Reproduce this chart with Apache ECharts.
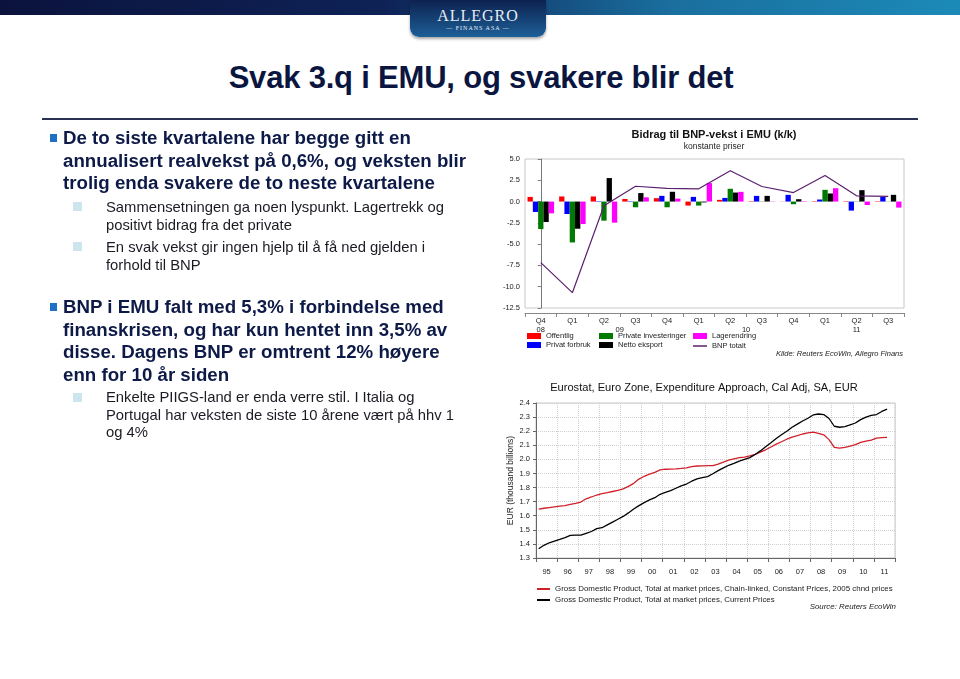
<!DOCTYPE html>
<html>
<head>
<meta charset="utf-8">
<script src="https://cdn.jsdelivr.net/npm/echarts@6/dist/echarts.min.js"></script>
<style>
  html, body { margin: 0; padding: 0; background: #fff; }
  body { width: 960px; height: 679px; position: relative; overflow: hidden; font-family: "Liberation Sans", Arial, sans-serif; }
  #chart { position: absolute; left: 0; top: 0; width: 960px; height: 679px; }
  .band { position: absolute; left: 0; top: 0; width: 960px; height: 15px;
    background: linear-gradient(to right, #0b133d 0%, #0e2256 40%, #1a6f9e 70%, #1c8ab8 100%); }
  .tab { position: absolute; left: 410px; top: 0; width: 136px; height: 37px; border-radius: 0 0 9px 9px;
    background: linear-gradient(to bottom, #0d2250, #1d5f97); box-shadow: 0 2px 3px rgba(0,0,0,0.35); text-align: center; color: #e8eef6; }
  .tab .name { font-family: "Liberation Serif", serif; font-size: 16px; letter-spacing: 1px; padding-top: 8px; line-height: 16px; }
  .tab .sub { font-family: "Liberation Serif", serif; font-size: 6px; letter-spacing: 1px; line-height: 8px; }
  .title { position: absolute; left: 0; width: 962px; top: 60px; text-align: center; font-size: 31px; font-weight: bold; color: #0b1640; letter-spacing: -0.2px; }
  .rule { position: absolute; left: 42px; top: 118px; width: 876px; height: 2px; background: #2b3152; }
  .main { position: absolute; left: 63px; font-size: 18.7px; font-weight: bold; color: #0d1a48; line-height: 22.7px; z-index: 1; }
  .main::before { content: ""; position: absolute; left: -13px; top: 7px; width: 7px; height: 8px; background: #1f6fc6; }
  .subb { position: absolute; left: 106px; font-size: 14.8px; color: #1b1b24; line-height: 18px; z-index: 1; }
  .subb::before { content: ""; position: absolute; left: -33px; top: 4px; width: 9px; height: 9px; background: #cde5ee; }
</style>
</head>
<body>
<div class="band"></div>
<div class="tab"><div class="name">ALLEGRO</div><div class="sub">— FINANS ASA —</div></div>
<div class="title">Svak 3.q i EMU, og svakere blir det</div>
<div class="rule"></div>

<div class="main" style="top:127px">De to siste kvartalene har begge gitt en<br>annualisert realvekst på 0,6%, og veksten blir<br>trolig enda svakere de to neste kvartalene</div>
<div class="subb" style="top:198px">Sammensetningen ga noen lyspunkt. Lagertrekk og<br>positivt bidrag fra det private</div>
<div class="subb" style="top:238px">En svak vekst gir ingen hjelp til å få ned gjelden i<br>forhold til BNP</div>
<div class="main" style="top:296px">BNP i EMU falt med 5,3% i forbindelse med<br>finanskrisen, og har kun hentet inn 3,5% av<br>disse. Dagens BNP er omtrent 12% høyere<br>enn for 10 år siden</div>
<div class="subb" style="top:389px;line-height:17.5px">Enkelte PIIGS-land er enda verre stil. I Italia og<br>Portugal har veksten de siste 10 årene vært på hhv 1<br>og 4%</div>

<div id="chart"></div>

<script>
// bidrag til BNP-vekst (k/k annualisert), Q4 08 - Q3 11
var quarters = ['Q4', 'Q1', 'Q2', 'Q3', 'Q4', 'Q1', 'Q2', 'Q3', 'Q4', 'Q1', 'Q2', 'Q3']
var yearNames = ['08', '09', '10', '11']
var yearSpots = [0, 2.5, 6.5, 10]
var offentlig = [0.55, 0.6, 0.6, 0.3, 0.4, -0.47, 0.2, 0.05, 0.02, 0.05, -0.05, -0.05]
var privatForbruk = [-1.22, -1.46, 0.05, 0.05, 0.67, 0.55, 0.43, 0.67, 0.79, 0.24, -1.06, 0.55]
var privateInv = [-3.23, -4.8, -2.24, -0.67, -0.67, -0.47, 1.5, 0.03, -0.31, 1.38, 0.03, 0.02]
var nettoEksport = [-2.4, -3.19, 2.76, 1.0, 1.15, -0.1, 1.06, 0.67, 0.28, 0.95, 1.34, 0.79]
var lagerendring = [-1.38, -2.64, -2.48, 0.5, 0.35, 2.17, 1.14, 0.03, 0.05, 1.57, -0.4, -0.71]
var bnpTotalt = [-7.17, -10.7, -0.5, 1.8, 1.55, 1.5, 3.62, 1.77, 1.06, 3.07, 0.67, 0.6]

// BNP nivå, kvartalsvis 1995Q1 - 2011Q3 (tusen mrd EUR)
var gdpYears = ['95', '96', '97', '98', '99', '00', '01', '02', '03', '04', '05', '06', '07', '08', '09', '10', '11']
var gdpConstant = [
  1.647, 1.653, 1.658, 1.663, 1.668, 1.672, 1.680, 1.688, 1.697, 1.720, 1.733, 1.747,
  1.757, 1.764, 1.772, 1.780, 1.790, 1.808, 1.830, 1.860, 1.880, 1.895, 1.908, 1.925,
  1.930, 1.931, 1.933, 1.936, 1.940, 1.948, 1.953, 1.954, 1.955, 1.956, 1.966, 1.980,
  1.994, 2.004, 2.012, 2.016, 2.024, 2.036, 2.052, 2.068, 2.088, 2.108, 2.125, 2.143,
  2.158, 2.168, 2.180, 2.188, 2.194, 2.185, 2.174, 2.140, 2.085, 2.079, 2.085, 2.094,
  2.104, 2.120, 2.130, 2.137, 2.150, 2.154, 2.156
]
var gdpCurrent = [
  1.366, 1.390, 1.408, 1.420, 1.432, 1.445, 1.460, 1.462, 1.462, 1.475, 1.488, 1.508,
  1.515, 1.535, 1.555, 1.575, 1.595, 1.620, 1.648, 1.672, 1.693, 1.712, 1.728, 1.752,
  1.765, 1.778, 1.795, 1.812, 1.825, 1.845, 1.862, 1.870, 1.878, 1.898, 1.920, 1.940,
  1.958, 1.972, 1.988, 2.000, 2.012, 2.035, 2.060, 2.090, 2.118, 2.148, 2.175, 2.200,
  2.228, 2.250, 2.272, 2.292, 2.315, 2.322, 2.318, 2.290, 2.235, 2.228, 2.232, 2.245,
  2.258, 2.282, 2.300, 2.312, 2.318, 2.340, 2.356
]

var constName = 'Gross Domestic Product, Total at market prices, Chain-linked, Constant Prices, 2005 chnd prices'
var currName = 'Gross Domestic Product, Total at market prices, Current Prices'

function toPairs(arr) {
  // kvartal i -> midt i kvartalet
  return arr.map(function (v, i) { return [1995 + (i + 0.5) / 4, v] })
}

var txt = '#222'
var small = { color: txt, fontSize: 7.5, fontFamily: 'Liberation Sans' }
var legendSmall = { color: txt, fontSize: 7.9, fontFamily: 'Liberation Sans' }

function bar(name, color, data) {
  return {
    name: name, type: 'bar', data: data, xAxisIndex: 0, yAxisIndex: 0,
    barGap: '0%', barCategoryGap: '16%', itemStyle: { color: color }
  }
}

function topLegend(left, top, h, names) {
  return {
    left: left, top: top, orient: 'vertical', padding: 0, itemWidth: 14, itemHeight: h, itemGap: 1,
    textStyle: small, data: names.map(function (n) { return { name: n, icon: 'rect' } })
  }
}

var chart = echarts.init(document.getElementById('chart'), null, { renderer: 'canvas' })
chart.setOption({
  animation: false,
  textStyle: { fontFamily: 'Liberation Sans' },
  title: [
    { text: 'Bidrag til BNP-vekst i EMU (k/k)', left: 714, top: 129, padding: 0, textAlign: 'center',
      textStyle: { fontSize: 11, fontWeight: 'bold', color: '#111' },
      subtext: 'konstante priser', itemGap: 2, subtextStyle: { fontSize: 8.5, color: '#222' } },
    { text: 'Kilde: Reuters EcoWin, Allegro Finans', right: 57, top: 350, padding: 0,
      textStyle: { fontSize: 7.5, fontStyle: 'italic', fontWeight: 'normal', color: '#222' } },
    { text: 'Eurostat, Euro Zone, Expenditure Approach, Cal Adj, SA, EUR', left: 704, top: 382, padding: 0, textAlign: 'center',
      textStyle: { fontSize: 11.1, fontWeight: 'normal', color: '#111' } },
    { text: 'Source: Reuters EcoWin', right: 64, top: 603, padding: 0,
      textStyle: { fontSize: 7.9, fontStyle: 'italic', fontWeight: 'normal', color: '#222' } }
  ],
  legend: [
    topLegend(527, 332, 6, ['Offentlig', 'Privat forbruk']),
    topLegend(599, 332, 6, ['Private investeringer', 'Netto eksport']),
    topLegend(693, 332, 6, ['Lagerendring']),
    topLegend(693, 342, 1.5, ['BNP totalt']),
    { left: 537, top: 585, orient: 'vertical', padding: 0, itemWidth: 13, itemHeight: 2, itemGap: 3,
      textStyle: legendSmall, data: [{ name: constName, icon: 'rect' }, { name: currName, icon: 'rect' }] }
  ],
  grid: [
    { left: 525, right: 56, top: 159, bottom: 679 - 308, show: true, borderColor: '#c8c8c8', borderWidth: 1 },
    { left: 536, right: 65, top: 403, bottom: 679 - 558, show: true, borderColor: '#c8c8c8', borderWidth: 1 }
  ],
  xAxis: [
    {
      type: 'category', gridIndex: 0, data: quarters, position: 'bottom', offset: 5,
      axisLine: { onZero: false, lineStyle: { color: '#888' } },
      axisTick: { show: true, interval: 0, length: 4, lineStyle: { color: '#888' } },
      axisLabel: { color: txt, fontSize: 7.5, margin: 4 }
    },
    {
      type: 'value', gridIndex: 0, min: -0.5, max: 11.5, position: 'bottom', offset: 14,
      axisLine: { show: false }, axisTick: { show: false }, splitLine: { show: false },
      axisLabel: {
        color: txt, fontSize: 7.5, margin: 4, customValues: yearSpots,
        formatter: function (v) { return yearNames[yearSpots.indexOf(v)] || '' }
      }
    },
    {
      type: 'value', gridIndex: 1, min: 1995, max: 2012, interval: 1, position: 'bottom',
      axisLine: { onZero: false, lineStyle: { color: '#666' } },
      axisTick: { show: true, length: 4, lineStyle: { color: '#666' } },
      splitLine: { show: true, lineStyle: { color: '#cfcfcf', type: 'dotted' } },
      axisLabel: {
        color: txt, fontSize: 7.5, margin: 10,
        customValues: gdpYears.map(function (y, i) { return 1995.5 + i }),
        formatter: function (v) { return gdpYears[Math.floor(v) - 1995] || '' }
      }
    }
  ],
  yAxis: [
    {
      type: 'value', gridIndex: 0, min: -12.5, max: 5, interval: 2.5,
      axisLine: { show: true, lineStyle: { color: '#777' } },
      axisTick: { show: true, length: 3, lineStyle: { color: '#777' } },
      splitLine: { show: false },
      axisLabel: { color: txt, fontSize: 7.5, margin: 5, formatter: function (v) { return v.toFixed(1) } }
    },
    {
      type: 'value', gridIndex: 1, min: 1.3, max: 2.4, interval: 0.1,
      name: 'EUR (thousand billions)', nameLocation: 'middle', nameGap: 21, nameRotate: 90,
      nameTextStyle: { color: txt, fontSize: 8.5 },
      axisLine: { show: true, lineStyle: { color: '#666' } },
      axisTick: { show: true, length: 3, lineStyle: { color: '#666' } },
      splitLine: { show: true, lineStyle: { color: '#cfcfcf', type: 'dotted' } },
      axisLabel: { color: txt, fontSize: 7.5, margin: 6, formatter: function (v) { return v.toFixed(1) } }
    }
  ],
  series: [
    bar('Offentlig', '#ff0000', offentlig),
    bar('Privat forbruk', '#0000ff', privatForbruk),
    bar('Private investeringer', '#007a00', privateInv),
    bar('Netto eksport', '#000000', nettoEksport),
    bar('Lagerendring', '#ff00ff', lagerendring),
    {
      name: 'BNP totalt', type: 'line', data: bnpTotalt, xAxisIndex: 0, yAxisIndex: 0,
      symbol: 'none', z: 5, lineStyle: { color: '#5c1f6e', width: 1.2 }, itemStyle: { color: '#5c1f6e' }
    },
    {
      name: constName, type: 'line', data: toPairs(gdpConstant), xAxisIndex: 2, yAxisIndex: 1,
      symbol: 'none', lineStyle: { color: '#d0202a', width: 1.3 }, itemStyle: { color: '#d0202a' }
    },
    {
      name: currName, type: 'line', data: toPairs(gdpCurrent), xAxisIndex: 2, yAxisIndex: 1,
      symbol: 'none', lineStyle: { color: '#000', width: 1.3 }, itemStyle: { color: '#000' }
    }
  ]
})
</script>
</body>
</html>
